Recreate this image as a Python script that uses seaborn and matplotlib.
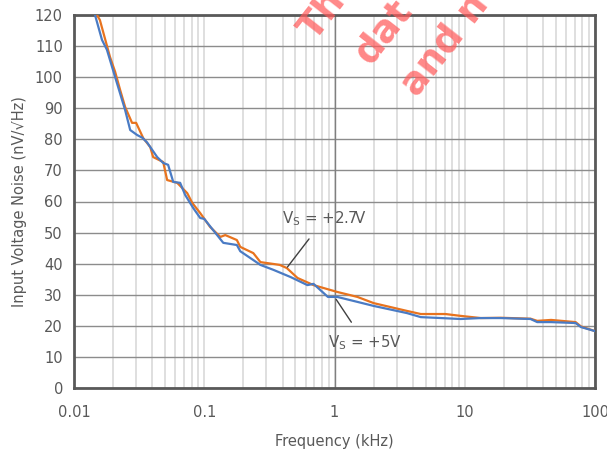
import numpy as np
import pandas as pd
import seaborn as sns
import matplotlib
matplotlib.use("Agg")
import matplotlib.pyplot as plt
from matplotlib.ticker import FixedLocator, NullFormatter

# ---- data ----
freq_5v = [0.0145, 0.0164, 0.0179, 0.0207, 0.0247, 0.027, 0.0305, 0.0335, 0.0364,
           0.0435, 0.0484, 0.0528, 0.0578, 0.0653, 0.0714, 0.0823, 0.0931, 0.1,
           0.117, 0.14, 0.178, 0.189, 0.226, 0.27, 0.34, 0.46, 0.62, 0.69, 0.89,
           1.05, 1.5, 2.0, 3.6, 4.6, 6.6, 9.3, 13.3, 18.9, 32, 36, 46, 71, 78, 100]
noise_5v = [120, 112, 108.8, 100, 89.4, 83, 81.4, 80.5, 79,
            74.3, 72.4, 71.8, 66.3, 66, 62.1, 57.9, 54.7, 54.4,
            50.8, 46.7, 46, 44, 41.8, 39.6, 38, 35.7, 33.1, 33.5, 29.3,
            29.3, 27.7, 26.4, 24.1, 22.8, 22.5, 22.2, 22.5, 22.5, 22.2, 21.2, 21.2, 20.9, 19.6, 18.3]

freq_27v = [0.0150, 0.0158, 0.0189, 0.0207, 0.0226, 0.0247, 0.0279, 0.030, 0.034,
            0.0385, 0.0405, 0.0484, 0.0519, 0.062, 0.074, 0.081, 0.093, 0.111,
            0.133, 0.145, 0.178, 0.189, 0.238, 0.27, 0.34, 0.38, 0.43, 0.52, 0.69,
            1.05, 1.5, 2.0, 3.6, 4.6, 7.1, 9.3, 13.3, 18.9, 32, 36, 46, 71, 78, 100]
noise_27v = [120, 118.4, 106.5, 101.7, 95.9, 90.4, 85.3, 85.3, 80.4,
             77.5, 74.3, 72.7, 66.9, 66, 62.7, 59.5, 56.3, 51.8,
             48.6, 49.2, 47.6, 45.4, 43.4, 40.5, 39.9, 39.6, 38.6, 35.4, 33.1,
             30.9, 29.3, 27.3, 24.8, 23.8, 23.8, 23.2, 22.5, 22.6, 22.3, 21.6, 21.9, 21.2, 19.8, 18.3]

series_names = ["+2.7V", "+5V"]
x_ticks = [0.01, 0.1, 1, 10, 100]
x_tick_labels = ["0.01", "0.1", "1", "10", "100"]
y_ticks = list(range(0, 121, 10))

df = pd.concat([
    pd.DataFrame({"f": freq_27v, "n": noise_27v, "s": series_names[0]}),
    pd.DataFrame({"f": freq_5v, "n": noise_5v, "s": series_names[1]}),
])

sns.set_theme(style="white")
plt.rcParams["font.family"] = ["DejaVu Sans"]

fig = plt.figure(figsize=(6.07, 4.57), dpi=100)
ax = fig.add_axes([74/607, 1-388/457, (595-74)/607, (388-15)/457])

txt = "#595959"
ax.set_xscale("log")
ax.set_xlim(0.01, 100)
ax.set_ylim(0, 120)
minor = [m * 10.0**e for e in range(-2, 2) for m in range(2, 10)]
ax.xaxis.set_minor_locator(FixedLocator(minor))
ax.xaxis.set_minor_formatter(NullFormatter())
ax.set_xticks(x_ticks)
ax.set_xticklabels(x_tick_labels)
ax.set_yticks(y_ticks)
ax.grid(True, which="minor", axis="x", color="#d9d9d9", lw=1.2, zorder=0)
ax.grid(True, which="major", axis="x", color="#d9d9d9", lw=1.2, zorder=0)
ax.grid(True, which="major", axis="y", color="#8c8c8c", lw=1.0, zorder=0)
ax.axvline(1, color="#7f7f7f", lw=1.0, zorder=1)

sns.lineplot(data=df, x="f", y="n", hue="s", hue_order=series_names,
             palette=["#E8731E", "#4A7BC4"], lw=1.6, legend=False, ax=ax,
             estimator=None, sort=False, zorder=3)

for s in ax.spines.values():
    s.set_visible(True)
    s.set_color("#595959")
    s.set_linewidth(2.0)
ax.tick_params(axis="both", which="both", length=0, labelsize=10.5, colors=txt, pad=8)
ax.tick_params(axis="x", pad=12)
ax.set_xlabel("Frequency (kHz)", fontsize=10.5, color=txt, labelpad=10)
ax.set_ylabel("Input Voltage Noise (nV/\u221aHz)", fontsize=10.5, color=txt, labelpad=6)

# annotations
ax.annotate("V$_\\mathregular{S}$ = +2.7V", xy=(0.435, 38.9), xytext=(0.84, 54.5),
            ha="center", va="center", fontsize=10.8, color=txt,
            arrowprops=dict(arrowstyle="-", color="#404040", lw=1.0, shrinkA=7, shrinkB=0))
ax.annotate("V$_\\mathregular{S}$ = +5V", xy=(1.03, 28.5), xytext=(1.72, 14.5),
            ha="center", va="center", fontsize=10.8, color=txt,
            arrowprops=dict(arrowstyle="-", color="#404040", lw=1.0, shrinkA=7, shrinkB=0))

# watermark
wm = dict(color="#ff5a5a", alpha=0.72, fontsize=27, fontweight="bold",
          rotation=52, rotation_mode="anchor", ha="left", va="baseline")
fig.text(315/607, 1-42/457, "Th", **wm)
fig.text(370/607, 1-66/457, "dat", **wm)
fig.text(417/607, 1-98/457, "and n", **wm)

fig.savefig("out.png", dpi=100)
